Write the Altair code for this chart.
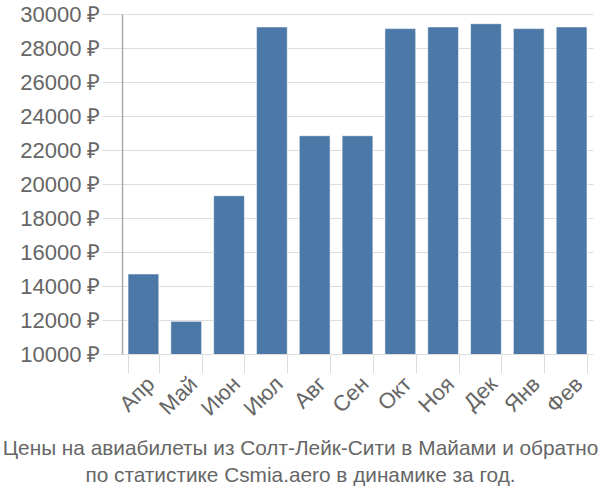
import altair as alt
import pandas as pd

months = ["Апр", "Май", "Июн", "Июл", "Авг", "Сен", "Окт", "Ноя", "Дек", "Янв", "Фев"]
prices = [14710, 11920, 19310, 29240, 22840, 22840, 29140, 29240, 29430, 29140, 29240]
title_lines = ["Цены на авиабилеты из Солт-Лейк-Сити в Майами и обратно",
               "по статистике Csmia.aero в динамике за год."]

df = pd.DataFrame({"month": months, "price": prices})

chart = alt.Chart(df).mark_bar(
    color="#4c78a8", stroke="#ffffff", strokeWidth=1, strokeOpacity=0.6, clip=True
).encode(
    x=alt.X("month:N", sort=months, title=None,
            scale=alt.Scale(paddingInner=0.28, paddingOuter=0.14),
            axis=alt.Axis(tickBand="extent", labelAngle=-45, labelAlign="right",
                          labelBaseline="top", labelFontSize=22, labelColor="#666666",
                          labelFont="Liberation Sans", tickSize=19, tickColor="#dddddd",
                          gridColor="#dddddd", domain=False, labelPadding=0)),
    y=alt.Y("price:Q", title=None,
            scale=alt.Scale(domain=[10000, 30000], nice=False, zero=False),
            axis=alt.Axis(values=list(range(10000, 30001, 2000)),
                          labelExpr="datum.value + ' ₽'", labelFontSize=22,
                          labelColor="#666666", labelFont="Liberation Sans",
                          tickSize=20, tickColor="#dddddd", gridColor="#dddddd",
                          domainColor="#aaaaaa", domainWidth=1.5, labelPadding=2)),
).properties(
    width=471, height=340,
    padding={"left": 122, "top": 14, "right": 7, "bottom": 146},
    autosize=alt.AutoSizeParams(type="none"),
    title=alt.TitleParams(title_lines, orient="bottom", anchor="middle",
                          fontSize=20.8, font="Liberation Sans", fontWeight="normal",
                          color="#666666", offset=20, lineHeight=27, dx=-57),
).configure_view(stroke=None)

chart.save("out.html", embed_options={"renderer": "svg", "actions": False})
